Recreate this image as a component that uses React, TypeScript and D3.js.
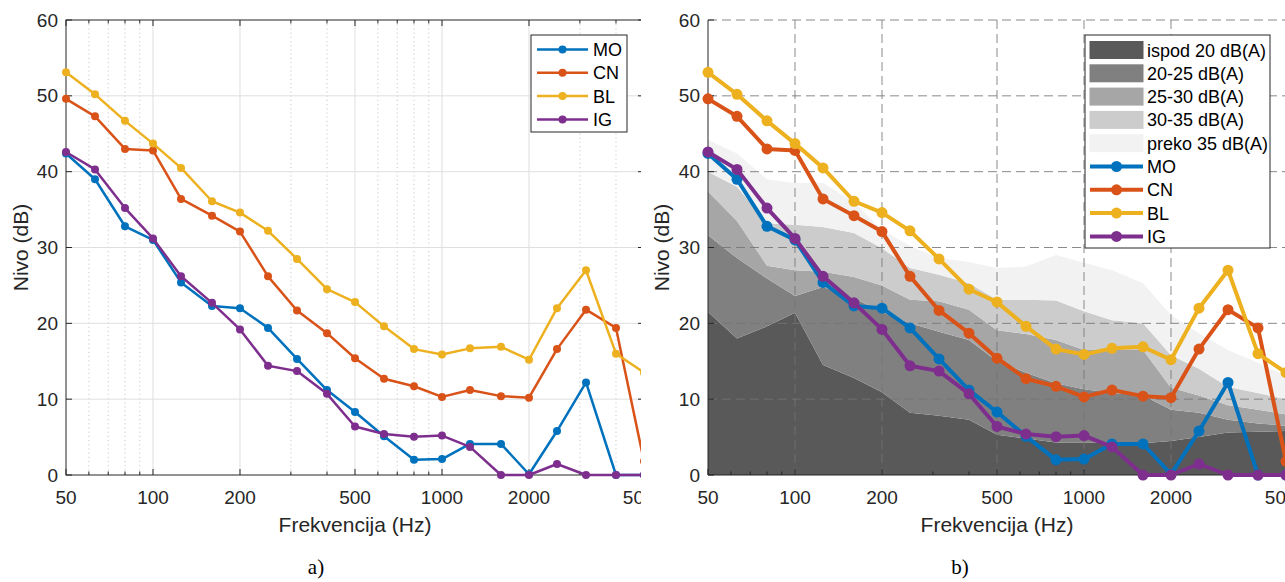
import React from "react";
import * as d3 from "d3";

// 1/3-octave frequencies (Hz)
const FREQS = [50, 63, 80, 100, 125, 160, 200, 250, 315, 400, 500, 630, 800, 1000, 1250, 1600, 2000, 2500, 3150, 4000, 5000];

// Measured levels (dB)
const MO = [42.4, 39.0, 32.8, 31.0, 25.4, 22.3, 22.0, 19.4, 15.3, 11.2, 8.3, 5.1, 2.0, 2.1, 4.1, 4.1, 0.1, 5.8, 12.2, 0, 0];
const CN = [49.6, 47.3, 43.0, 42.8, 36.4, 34.2, 32.1, 26.2, 21.7, 18.7, 15.4, 12.7, 11.7, 10.3, 11.2, 10.4, 10.2, 16.6, 21.8, 19.4, 1.8];
const BL = [53.1, 50.2, 46.7, 43.7, 40.5, 36.1, 34.6, 32.2, 28.5, 24.5, 22.8, 19.6, 16.6, 15.9, 16.7, 16.9, 15.2, 22.0, 27.0, 16.0, 13.5];
const IG = [42.6, 40.3, 35.2, 31.2, 26.2, 22.7, 19.2, 14.4, 13.7, 10.7, 6.4, 5.4, 5.05, 5.2, 3.7, 0, 0, 1.45, 0, 0, 0];

const SERIES_NAMES = ["MO", "CN", "BL", "IG"];
const SERIES_VALUES = [MO, CN, BL, IG];
const SERIES_COLORS = ["#0072BD", "#D95319", "#EDB120", "#7E2F8E"];

// Upper boundaries of the shaded bands (dB)
const BAND_UNDER20 = [21.5, 18.0, 19.6, 21.4, 14.5, 12.8, 10.9, 8.2, 7.8, 7.3, 5.3, 4.8, 4.3, 4.3, 4.2, 4.2, 4.5, 5.0, 5.6, 5.7, 5.8];
const BAND_20_25 = [31.6, 28.6, 25.9, 23.6, 24.8, 23.3, 21.5, 20.0, 18.9, 17.8, 15.0, 13.5, 12.1, 11.3, 10.8, 10.5, 8.6, 8.2, 7.3, 6.8, 6.5];
const BAND_25_30 = [37.4, 33.5, 27.6, 27.0, 26.8, 26.1, 25.0, 23.1, 22.9, 21.8, 19.1, 18.6, 17.8, 16.5, 16.5, 16.5, 11.5, 10.5, 9.2, 8.6, 8.0];
const BAND_30_35 = [40.0, 38.0, 33.2, 33.0, 32.7, 31.9, 29.9, 27.3, 26.4, 25.3, 23.1, 23.1, 23.0, 21.6, 20.4, 20.0, 15.8, 14.0, 11.6, 10.8, 10.0];
const BAND_OVER35 = [44.2, 42.4, 39.0, 38.5, 38.5, 36.0, 32.3, 30.2, 28.6, 28.1, 27.3, 27.5, 29.0, 28.0, 27.0, 25.3, 21.1, 18.7, 16.5, 14.8, 13.0];

const BAND_TOPS = [BAND_UNDER20, BAND_20_25, BAND_25_30, BAND_30_35, BAND_OVER35];
const BAND_LABELS = ["ispod 20 dB(A)", "20-25 dB(A)", "25-30 dB(A)", "30-35 dB(A)", "preko 35 dB(A)"];
const BAND_COLORS = ["#595959", "#808080", "#a6a6a6", "#cccccc", "#f2f2f2"];

const X_TICKS = [50, 100, 200, 500, 1000, 2000, 5000];
const X_MINOR = [60, 70, 80, 90, 300, 400, 600, 700, 800, 900, 3000, 4000];
const Y_TICKS = [0, 10, 20, 30, 40, 50, 60];

const FONT = "'Liberation Sans', Arial, Helvetica, sans-serif";
const AX = "#262626";

const Y0 = 475;
const Y1 = 20;

function LeftPanel() {
  const x = d3.scaleLog().domain([50, 5000]).range([66, 644]);
  const y = d3.scaleLinear().domain([0, 60]).range([Y0, Y1]);
  const line = d3.line<number>().x((_, i) => x(FREQS[i])).y((v) => y(v));
  const [xl, xr] = x.range();
  return (
    <g clipPath="url(#clipLeft)">
      {/* minor grid */}
      {X_MINOR.map((f) => (
        <line key={"mg" + f} x1={x(f)} x2={x(f)} y1={Y1} y2={Y0} stroke="#c8c8c8" strokeWidth={1} strokeDasharray="1.2,3" />
      ))}
      {X_TICKS.slice(1, -1).map((f) => (
        <line key={"g" + f} x1={x(f)} x2={x(f)} y1={Y1} y2={Y0} stroke="#dfdfdf" strokeWidth={1} />
      ))}
      {Y_TICKS.slice(1, -1).map((v) => (
        <line key={"gy" + v} x1={xl} x2={xr} y1={y(v)} y2={y(v)} stroke="#dfdfdf" strokeWidth={1} />
      ))}
      {/* box */}
      <rect x={xl} y={Y1} width={xr - xl} height={Y0 - Y1} fill="none" stroke={AX} strokeWidth={1} />
      {/* ticks */}
      {X_TICKS.map((f) => (
        <g key={"t" + f}>
          <line x1={x(f)} x2={x(f)} y1={Y0} y2={Y0 - 6} stroke={AX} />
          <line x1={x(f)} x2={x(f)} y1={Y1} y2={Y1 + 6} stroke={AX} />
        </g>
      ))}
      {X_MINOR.map((f) => (
        <g key={"tm" + f}>
          <line x1={x(f)} x2={x(f)} y1={Y0} y2={Y0 - 3.5} stroke={AX} />
          <line x1={x(f)} x2={x(f)} y1={Y1} y2={Y1 + 3.5} stroke={AX} />
        </g>
      ))}
      {Y_TICKS.map((v) => (
        <g key={"ty" + v}>
          <line x1={xl} x2={xl + 6} y1={y(v)} y2={y(v)} stroke={AX} />
          <line x1={xr} x2={xr - 6} y1={y(v)} y2={y(v)} stroke={AX} />
        </g>
      ))}
      {/* data */}
      {SERIES_VALUES.map((vals, k) => (
        <g key={"s" + k}>
          <path d={line(vals) || ""} fill="none" stroke={SERIES_COLORS[k]} strokeWidth={2.5} strokeLinejoin="round" />
          {vals.map((v, i) => (
            <circle key={i} cx={x(FREQS[i])} cy={y(v)} r={4} fill={SERIES_COLORS[k]} />
          ))}
        </g>
      ))}
      {/* tick labels */}
      {X_TICKS.map((f) => (
        <text key={"xl" + f} x={x(f)} y={504} textAnchor="middle" fontSize={19} fill={AX} fontFamily={FONT}>
          {f}
        </text>
      ))}
      {Y_TICKS.map((v) => (
        <text key={"yl" + v} x={58} y={y(v) + 6.5} textAnchor="end" fontSize={19} fill={AX} fontFamily={FONT}>
          {v}
        </text>
      ))}
      <text x={(xl + xr) / 2} y={532} textAnchor="middle" fontSize={21} fill={AX} fontFamily={FONT}>
        Frekvencija (Hz)
      </text>
      <text transform={`translate(28,${(Y0 + Y1) / 2}) rotate(-90)`} textAnchor="middle" fontSize={21} fill={AX} fontFamily={FONT}>
        Nivo (dB)
      </text>
      {/* legend */}
      <rect x={531} y={35} width={96} height={97} fill="#fff" stroke={AX} strokeWidth={1} />
      {SERIES_NAMES.map((n, k) => {
        const cy = 49.5 + k * 23.3;
        return (
          <g key={"lg" + n}>
            <line x1={537} x2={588} y1={cy} y2={cy} stroke={SERIES_COLORS[k]} strokeWidth={2.5} />
            <circle cx={562.5} cy={cy} r={4} fill={SERIES_COLORS[k]} />
            <text x={593} y={cy + 6.5} fontSize={18} fill="#000" fontFamily={FONT}>
              {n}
            </text>
          </g>
        );
      })}
    </g>
  );
}

function RightPanel() {
  const x = d3.scaleLog().domain([50, 5000]).range([708, 1286]);
  const y = d3.scaleLinear().domain([0, 60]).range([Y0, Y1]);
  const line = d3.line<number>().x((_, i) => x(FREQS[i])).y((v) => y(v));
  const [xl, xr] = x.range();
  const grid = "#747474";
  return (
    <g>
      <defs>
        <clipPath id="clipRightPlot">
          <rect x={xl} y={Y1} width={xr - xl} height={Y0 - Y1} />
        </clipPath>
      </defs>
      {/* bands */}
      <g clipPath="url(#clipRightPlot)">
        {BAND_TOPS.map((top, k) => {
          const prev = k === 0 ? null : BAND_TOPS[k - 1];
          const area = d3
            .area<number>()
            .x((_, i) => x(FREQS[i]))
            .y0((_, i) => y(prev ? prev[i] : 0))
            .y1((v) => y(v));
          return <path key={"b" + k} d={area(top) || ""} fill={BAND_COLORS[k]} stroke="none" />;
        })}
      </g>
      {/* grid (on top of bands) */}
      {X_TICKS.slice(1).map((f) => (
        <line key={"g" + f} x1={x(f)} x2={x(f)} y1={Y1} y2={Y0} stroke={grid} strokeOpacity={0.84} strokeWidth={1} strokeDasharray="9,5" />
      ))}
      {Y_TICKS.slice(1).map((v) => (
        <line key={"gy" + v} x1={xl} x2={xr} y1={y(v)} y2={y(v)} stroke={grid} strokeOpacity={0.84} strokeWidth={1} strokeDasharray="9,5" />
      ))}
      {/* axes */}
      <line x1={xl} x2={xl} y1={Y1} y2={Y0} stroke={AX} strokeWidth={1} />
      <line x1={xl} x2={xr} y1={Y0} y2={Y0} stroke={AX} strokeWidth={1} />
      {X_TICKS.map((f) => (
        <line key={"t" + f} x1={x(f)} x2={x(f)} y1={Y0} y2={Y0 - 6} stroke={AX} />
      ))}
      {X_MINOR.map((f) => (
        <line key={"tm" + f} x1={x(f)} x2={x(f)} y1={Y0} y2={Y0 - 3.5} stroke={AX} />
      ))}
      {Y_TICKS.map((v) => (
        <line key={"ty" + v} x1={xl} x2={xl + 6} y1={y(v)} y2={y(v)} stroke={AX} />
      ))}
      {/* data */}
      {SERIES_VALUES.map((vals, k) => (
        <g key={"s" + k}>
          <path d={line(vals) || ""} fill="none" stroke={SERIES_COLORS[k]} strokeWidth={4} strokeLinejoin="round" />
          {vals.map((v, i) => (
            <circle key={i} cx={x(FREQS[i])} cy={y(v)} r={5.5} fill={SERIES_COLORS[k]} />
          ))}
        </g>
      ))}
      {/* labels */}
      {X_TICKS.map((f) => (
        <text key={"xl" + f} x={x(f)} y={504} textAnchor="middle" fontSize={19} fill={AX} fontFamily={FONT}>
          {f}
        </text>
      ))}
      {Y_TICKS.map((v) => (
        <text key={"yl" + v} x={700} y={y(v) + 6.5} textAnchor="end" fontSize={19} fill={AX} fontFamily={FONT}>
          {v}
        </text>
      ))}
      <text x={xl + 289} y={532} textAnchor="middle" fontSize={21} fill={AX} fontFamily={FONT}>
        Frekvencija (Hz)
      </text>
      <text transform={`translate(669,${(Y0 + Y1) / 2}) rotate(-90)`} textAnchor="middle" fontSize={21} fill={AX} fontFamily={FONT}>
        Nivo (dB)
      </text>
      {/* legend */}
      <rect x={1085} y={35} width={185} height={213} fill="#fff" stroke={AX} strokeWidth={1} />
      {BAND_LABELS.map((lab, k) => {
        const cy = 50 + k * 23.3;
        return (
          <g key={"lb" + k}>
            <rect x={1089.5} y={cy - 9} width={54} height={18} fill={BAND_COLORS[k]} />
            <text x={1147} y={cy + 6.5} fontSize={18} fill="#000" fontFamily={FONT}>
              {lab}
            </text>
          </g>
        );
      })}
      {SERIES_NAMES.map((n, k) => {
        const cy = 50 + (k + 5) * 23.3;
        return (
          <g key={"ls" + n}>
            <line x1={1090} x2={1143} y1={cy} y2={cy} stroke={SERIES_COLORS[k]} strokeWidth={4} />
            <circle cx={1116.5} cy={cy} r={5.5} fill={SERIES_COLORS[k]} />
            <text x={1147} y={cy + 6.5} fontSize={18} fill="#000" fontFamily={FONT}>
              {n}
            </text>
          </g>
        );
      })}
    </g>
  );
}

export default function App() {
  React.useEffect(() => {
    document.body.style.margin = "0";
  }, []);
  return (
    <svg
      width={1285}
      height={582}
      viewBox="0 0 1285 582"
      style={{ position: "absolute", left: 0, top: 0, display: "block", background: "#fff" }}
    >
      <defs>
        <clipPath id="clipLeft">
          <rect x={0} y={0} width={641} height={582} />
        </clipPath>
      </defs>
      <rect x={0} y={0} width={1285} height={582} fill="#fff" />
      <LeftPanel />
      <RightPanel />
      <text x={316} y={574} textAnchor="middle" fontSize={21} fill="#000" fontFamily="'Liberation Serif', 'Times New Roman', serif">
        a)
      </text>
      <text x={960} y={574} textAnchor="middle" fontSize={21} fill="#000" fontFamily="'Liberation Serif', 'Times New Roman', serif">
        b)
      </text>
    </svg>
  );
}
